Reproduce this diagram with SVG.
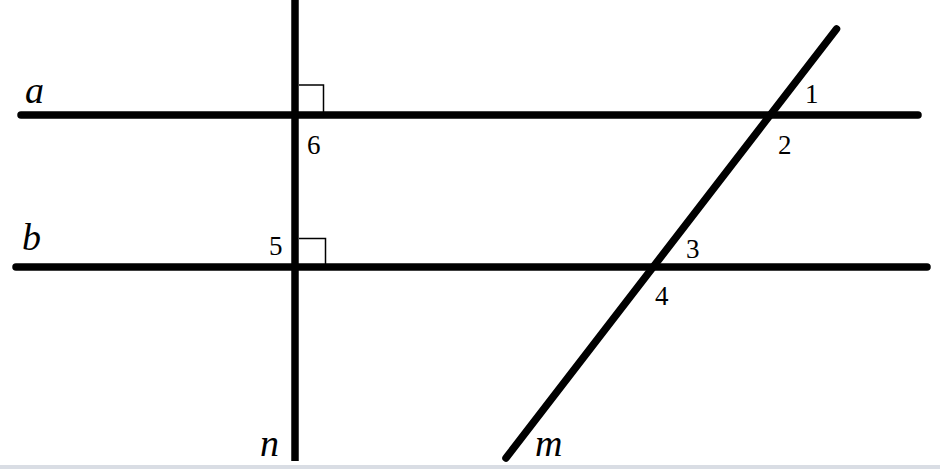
<svg xmlns="http://www.w3.org/2000/svg" width="940" height="469" viewBox="0 0 940 469">
<style>
.ln{stroke:#000;stroke-width:7.5;fill:none}
.rc{stroke-linecap:round}
.ra{stroke:#000;stroke-width:1.5;fill:none}
.lab{font-family:"Liberation Serif","Times New Roman",serif;font-style:italic;font-size:38px;fill:#000}
.num{font-family:"Liberation Serif","Times New Roman",serif;font-size:27px;fill:#000}
</style>
<rect width="940" height="469" fill="#fff"/>
<rect x="0" y="465" width="940" height="4" fill="#d9dde4"/>
<g id="connectors">
<path class="ln" d="M21 115 H918" stroke-linecap="round"/>
<path class="ln" d="M16 267 H927" stroke-linecap="round"/>
<path class="ln" d="M295 0 V461"/>
<path class="ln rc" d="M836.5 29 L506 458"/>
</g>
<g id="line-a"><text class="lab" x="25" y="103">a</text></g>
<g id="line-b"><text class="lab" x="22" y="250">b</text></g>
<g id="line-n"><text class="lab" x="260" y="456">n</text></g>
<g id="line-m"><text class="lab" x="535" y="456">m</text></g>
<g id="right-angle-6">
<path class="ra" d="M299 85 H323.5 V112"/>
<text class="num" x="307" y="154">6</text>
</g>
<g id="right-angle-5">
<path class="ra" d="M299 238.5 H325.5 V264"/>
<text class="num" x="269" y="255">5</text>
</g>
<g id="angle-1"><text class="num" x="805" y="103">1</text></g>
<g id="angle-2"><text class="num" x="778" y="154">2</text></g>
<g id="angle-3"><text class="num" x="686" y="258">3</text></g>
<g id="angle-4"><text class="num" x="655" y="305">4</text></g>
</svg>
